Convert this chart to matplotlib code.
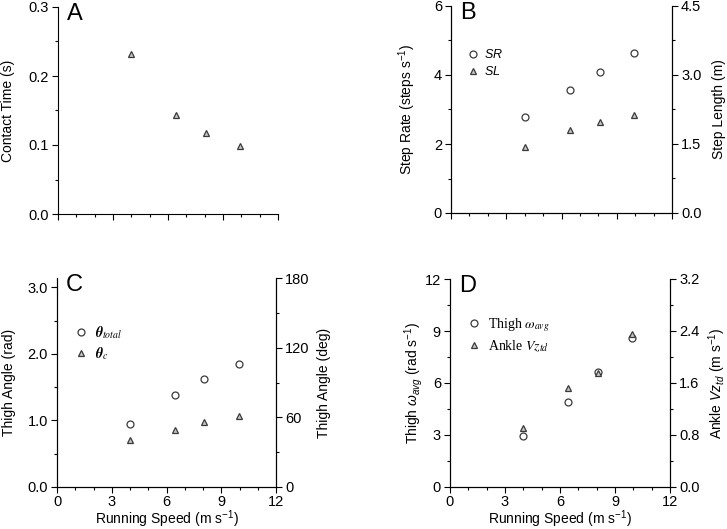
import matplotlib
matplotlib.use("Agg")
import matplotlib.pyplot as plt
from matplotlib.font_manager import FontProperties
from matplotlib.ticker import MultipleLocator, FormatStrFormatter
import numpy as np

plt.rcParams["font.family"] = "Liberation Sans"
plt.rcParams["mathtext.fontset"] = "custom"
plt.rcParams["mathtext.rm"] = "Liberation Sans"
plt.rcParams["mathtext.it"] = "Liberation Sans:italic"
plt.rcParams["mathtext.bf"] = "Liberation Sans:bold"

# running speeds (m/s)
speed = [4.0, 6.45, 8.07, 9.95]

contact_time = [0.232, 0.143, 0.118, 0.098]
step_rate = [2.79, 3.56, 4.08, 4.65]
step_length = [1.43, 1.80, 1.97, 2.13]
theta_total = [0.94, 1.38, 1.63, 1.85]
theta_c = [0.70, 0.85, 0.97, 1.06]
thigh_omega = [2.95, 4.93, 6.63, 8.61]
ankle_vz = [0.91, 1.52, 1.75, 2.35]

W, H = 727, 529
fig = plt.figure(figsize=(W / 100, H / 100), dpi=100)

def box(l, r, t, b):
    return [l / W, (H - b) / H, (r - l) / W, (b - t) / H]

EDGE = "#3a3a3a"
circ = dict(marker="o", ms=5, mfc="white", mec=EDGE, mew=0.9, ls="none")
tri = dict(marker="^", ms=4.5, mfc="#c4c4c4", mec=EDGE, mew=0.9, ls="none")
TICK = 10.5
LAB = 10

def style(ax, right=False):
    ax.spines["top"].set_visible(False)
    if not right:
        ax.spines["right"].set_visible(False)
    ax.tick_params(which="both", direction="out", labelsize=TICK, width=0.8, pad=2.5)
    ax.tick_params(axis="x", pad=1.5)
    ax.tick_params(which="major", length=4)
    ax.tick_params(which="minor", length=2.5)
    for s in ax.spines.values():
        s.set_linewidth(0.8)

def xaxis(ax, labels):
    ax.set_xlim(0, 12)
    ax.xaxis.set_major_locator(MultipleLocator(3))
    ax.xaxis.set_minor_locator(MultipleLocator(1))
    if labels:
        ax.set_xlabel(r"Running Speed (m s$^{-1}$)", fontsize=LAB)
        ax.xaxis.set_label_coords(0.5, -0.155)
        ax.xaxis.label.set_va("center")
    else:
        ax.tick_params(axis="x", labelbottom=False)

def ylab(ax, text, xpos):
    ax.set_ylabel(text, fontsize=LAB)
    ax.yaxis.set_label_coords(xpos, 0.5)
    ax.yaxis.label.set_va("center")

def letter(ax, s):
    ax.text(0.04, 1.02, s, transform=ax.transAxes, fontsize=17, va="top", ha="left")

# A
axA = fig.add_axes(box(58, 278, 7, 214))
style(axA)
xaxis(axA, False)
axA.plot(speed, contact_time, **tri)
axA.set_ylim(0, 0.3)
axA.yaxis.set_major_locator(MultipleLocator(0.1))
axA.yaxis.set_minor_locator(MultipleLocator(0.05))
axA.yaxis.set_major_formatter(FormatStrFormatter("%.1f"))
ylab(axA, "Contact Time (s)", -0.225)
letter(axA, "A")

# B
axB = fig.add_axes(box(451, 672, 6, 213))
style(axB, right=True)
xaxis(axB, False)
axB2 = axB.twinx()
style(axB2, right=True)
axB.set_ylim(0, 6)
axB.yaxis.set_major_locator(MultipleLocator(2))
axB.yaxis.set_minor_locator(MultipleLocator(1))
axB2.set_ylim(0, 4.5)
axB2.yaxis.set_major_locator(MultipleLocator(1.5))
axB2.yaxis.set_minor_locator(MultipleLocator(0.75))
axB2.yaxis.set_major_formatter(FormatStrFormatter("%.1f"))
h1, = axB.plot(speed, step_rate, label="$SR$", **circ)
h2, = axB2.plot(speed, step_length, label="$SL$", **tri)
ylab(axB, r"Step Rate (steps s$^{-1}$)", -0.2)
ylab(axB2, "Step Length (m)", 1.212)
axB.legend(handles=[h1, h2], loc="upper left", bbox_to_anchor=(0.02, 0.85),
           frameon=False, fontsize=9, handlelength=1.0, handletextpad=0.4, labelspacing=0.3)
letter(axB, "B")

# C
axC = fig.add_axes(box(57, 276, 278, 487))
style(axC, right=True)
xaxis(axC, True)
axC2 = axC.twinx()
style(axC2, right=True)
axC.set_ylim(0, np.pi)
axC.yaxis.set_major_locator(MultipleLocator(1.0))
axC.yaxis.set_minor_locator(MultipleLocator(0.5))
axC.yaxis.set_major_formatter(FormatStrFormatter("%.1f"))
axC2.set_ylim(0, 180)
axC2.yaxis.set_major_locator(MultipleLocator(60))
axC2.yaxis.set_minor_locator(MultipleLocator(30))
h1, = axC.plot(speed, theta_total, label=r"$\boldsymbol{\theta}_{\mathit{total}}$", **circ)
h2, = axC.plot(speed, theta_c, label=r"$\boldsymbol{\theta}_{\mathit{c}}$", **tri)
ylab(axC, "Thigh Angle (rad)", -0.22)
ylab(axC2, "Thigh Angle (deg)", 1.219)
fp = FontProperties(family="Liberation Serif", size=10, math_fontfamily="stix")
legC = axC.legend(handles=[h1, h2], loc="upper left", bbox_to_anchor=(0.02, 0.84),
                  frameon=False, prop=fp, handlelength=1.0, handletextpad=0.5, labelspacing=0.3)
letter(axC, "C")

# D
axD = fig.add_axes(box(450, 670, 279, 487))
style(axD, right=True)
xaxis(axD, True)
axD2 = axD.twinx()
style(axD2, right=True)
axD.set_ylim(0, 12)
axD.yaxis.set_major_locator(MultipleLocator(3))
axD.yaxis.set_minor_locator(MultipleLocator(1.5))
axD2.set_ylim(0, 3.2)
axD2.yaxis.set_major_locator(MultipleLocator(0.8))
axD2.yaxis.set_minor_locator(MultipleLocator(0.4))
axD2.yaxis.set_major_formatter(FormatStrFormatter("%.1f"))
h1, = axD.plot(speed, thigh_omega, label=r"Thigh $\omega_{avg}$", **circ)
h2, = axD2.plot(speed, ankle_vz, label=r"Ankle $Vz_{td}$", **tri)
ylab(axD, r"Thigh $\omega_{avg}$ (rad s$^{-1}$)", -0.165)
ylab(axD2, r"Ankle $Vz_{td}$ (m s$^{-1}$)", 1.214)
axD.legend(handles=[h1, h2], loc="upper left", bbox_to_anchor=(0.02, 0.88),
           frameon=False, prop=fp, handlelength=1.0, handletextpad=0.5, labelspacing=0.3)
letter(axD, "D")

try:
    fig.canvas.draw()
except Exception:
    # fall back if \boldsymbol is not understood
    for t, s in zip(legC.get_texts(), [r"$\mathbf{\theta}_{\mathit{total}}$", r"$\mathbf{\theta}_{\mathit{c}}$"]):
        t.set_text(s)

fig.savefig("out.png", dpi=100)
